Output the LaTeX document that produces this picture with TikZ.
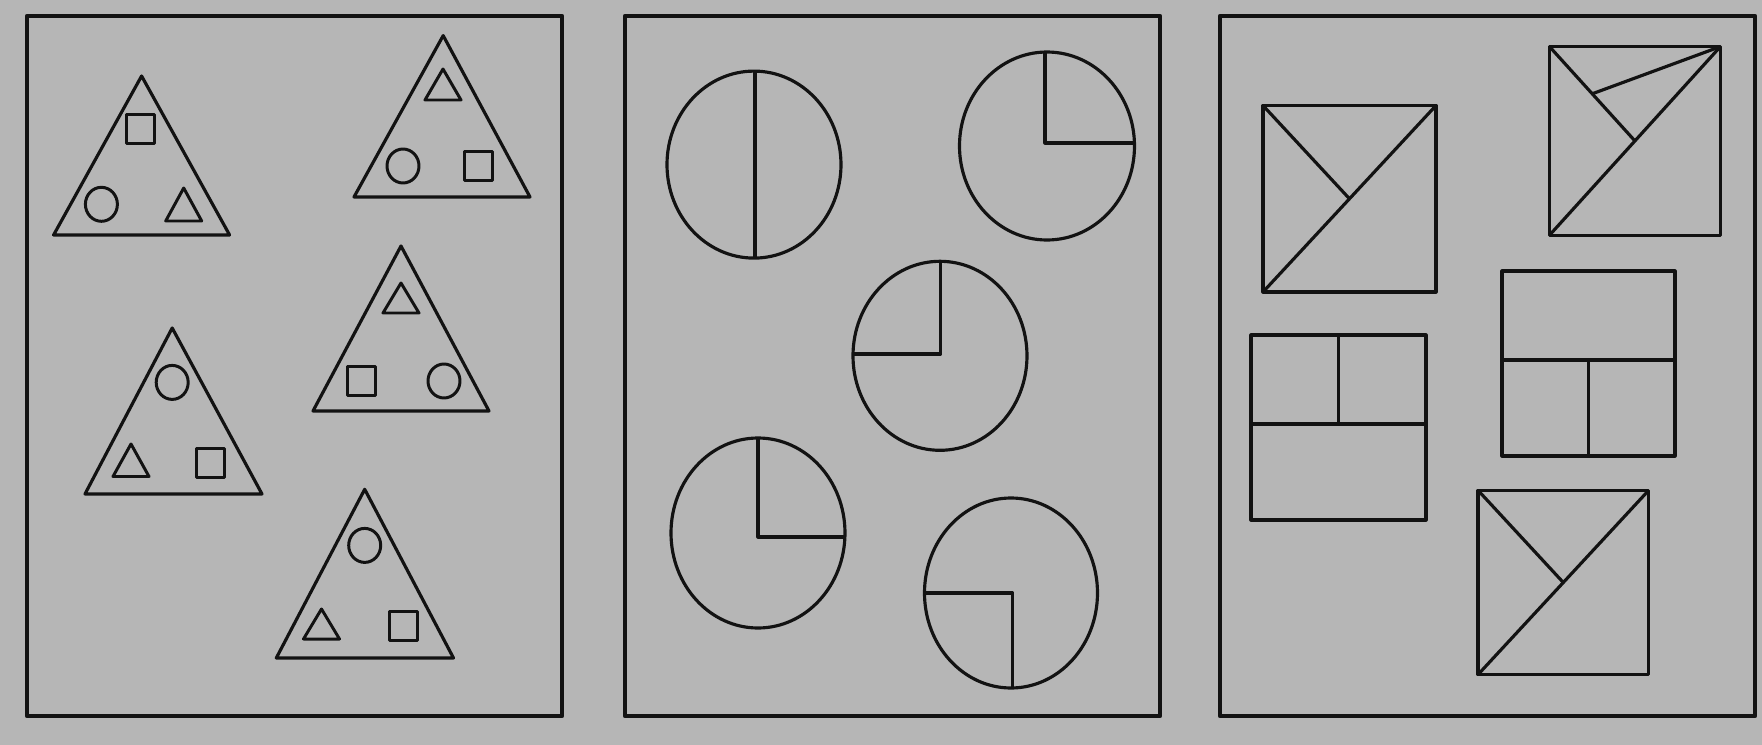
\documentclass[tikz,border=0pt]{standalone}
\usepackage{xcolor}
\usepackage{tikz}
\usetikzlibrary{positioning}
\definecolor{PaperGray}{RGB}{182,182,182}
\definecolor{InkBlack}{RGB}{18,18,18}
\tikzset{
  % riquadri dei tre gruppi
  panel/.style={draw=InkBlack,line width=1.2pt,line join=round},
  % figure grandi e simboli interni
  fig/.style={draw=InkBlack,line width=0.9pt,line join=round},
  sym/.style={draw=InkBlack,line width=0.85pt,line join=round}
}

\begin{document}
\begin{tikzpicture}[x=0.01cm,y=-0.01cm]
    \fill[PaperGray] (0,0) rectangle (1762,745);
    \useasboundingbox (0,0) rectangle (1762,745);
    \draw[panel] (27,16) rectangle (562,716);
    \draw[panel] (625,16) rectangle (1160,716);
    \draw[panel] (1220,16) rectangle (1755,716);
    % triangoli
    \draw[fig] (141.6,76) -- (229.6,235) -- (53.6,235) -- cycle;
    \draw[sym] (126.8,114.7) rectangle ++(28,29);
    \draw[sym] (101.4,204.3) ellipse [x radius=16,y radius=17];
    \draw[sym] (165.7,221) -- ++(18,-33) -- ++(18,33) -- cycle;
    \draw[fig] (443.2,35.6) -- (530,197) -- (354,197) -- cycle;
    \draw[sym] (425,100) -- ++(18,-31) -- ++(18,31) -- cycle;
    \draw[sym] (403,166) ellipse [x radius=16,y radius=17];
    \draw[sym] (464.4,151.5) rectangle ++(28,29);
    \draw[fig] (172.2,328) -- (262,494) -- (85,494) -- cycle;
    \draw[sym] (172.2,382.4) ellipse [x radius=16,y radius=17];
    \draw[sym] (113,476.5) -- ++(18,-32.5) -- ++(18,32.5) -- cycle;
    \draw[sym] (196.5,448.5) rectangle ++(28,29);
    \draw[fig] (401,246) -- (489,411) -- (313,411) -- cycle;
    \draw[sym] (383,313) -- ++(18,-30) -- ++(18,30) -- cycle;
    \draw[sym] (347.6,366.5) rectangle ++(28,29);
    \draw[sym] (444,381) ellipse [x radius=16,y radius=17];
    \draw[fig] (364.7,489.3) -- (453.5,658) -- (276.3,658) -- cycle;
    \draw[sym] (364.7,545.4) ellipse [x radius=16,y radius=17];
    \draw[sym] (303.5,639) -- ++(18,-30) -- ++(18,30) -- cycle;
    \draw[sym] (389.7,611.2) rectangle ++(28,29);
    % cerchi
    \draw[fig] (754,164.6) ellipse [x radius=87,y radius=93.5];
    \draw[fig] (755,71.1) -- (755,258.1);
    \draw[fig] (1047,146) ellipse [x radius=87.5,y radius=94];
    \draw[fig] (1045,52) -- (1045,143) -- (1134.5,143);
    \draw[fig] (940,355.8) ellipse [x radius=87,y radius=94.5];
    \draw[fig] (940.6,261.3) -- (940.6,354) -- (853,354);
    \draw[fig] (758,533) ellipse [x radius=87,y radius=95];
    \draw[fig] (758,438) -- (758,537) -- (845,537);
    \draw[fig] (1011,593) ellipse [x radius=86.5,y radius=95];
    \draw[fig] (924.5,593) -- (1012.5,593) -- (1012.5,688);
    % rettangoli
    \draw[fig] (1263,105.5) rectangle (1436,292);
    \draw[fig] (1263,292) -- (1436,105.5);
    \draw[fig] (1263,105.5) -- (1349.5,198.8);
    \draw[fig] (1549.5,46.6) rectangle (1720.4,235.2);
    \draw[fig] (1549.5,235.2) -- (1720.4,46.6);
    \draw[fig] (1549.5,46.6) -- (1635,141);
    \draw[fig] (1720.4,46.6) -- (1592.2,93.8);
    \draw[fig] (1251,335) rectangle (1426,520);
    \draw[fig] (1251,424) -- (1426,424);
    \draw[fig] (1338.5,335) -- (1338.5,424);
    \draw[fig] (1502,271) rectangle (1675,456);
    \draw[fig] (1502,360) -- (1675,360);
    \draw[fig] (1588.5,360) -- (1588.5,456);
    \draw[fig] (1478,490.3) rectangle (1648.7,674.6);
    \draw[fig] (1478,674.6) -- (1648.7,490.3);
    \draw[fig] (1478,490.3) -- (1563.3,582.5);
  \end{tikzpicture}
\end{document}
